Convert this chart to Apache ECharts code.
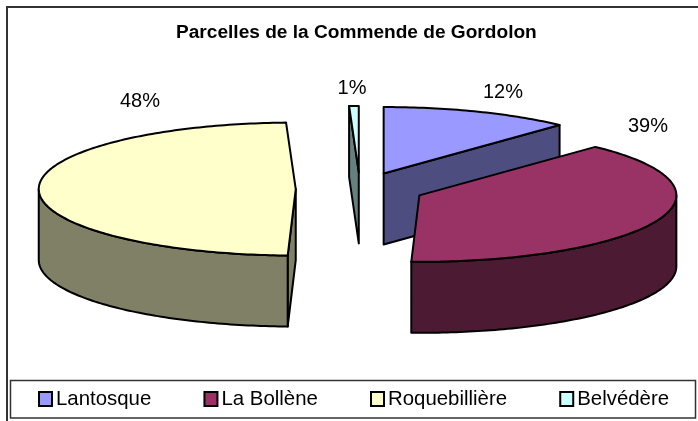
<!DOCTYPE html>
<html><head><meta charset="utf-8">
<style>html,body{margin:0;padding:0;background:#fff}#c{width:698px;height:421px}</style>
<script src="https://cdn.jsdelivr.net/npm/echarts@6/dist/echarts.min.js"></script>
</head><body><div id="c"></div>
<script>
const categories = ['Lantosque', 'La Bollène', 'Roquebillière', 'Belvédère'];
const values = [12, 38.5, 48.9, 0.6];
const percentLabels = ['12%', '39%', '48%', '1%'];
const topColors = ['#9999FF', '#993366', '#FFFFCC', '#CCFFFF'];
const wallColors = ['#4D4D80', '#4D1A33', '#808066', '#668080'];

// pie projection
const CX = 360, CY = 189, RX = 257, RY = 66.5, DEPTH = 71, EXPLODE = 0.25;
const LABEL_AT = [[503, 92], [648, 126], [140, 101], [352, 88]];

const total = values.reduce((a, b) => a + b, 0);
let acc = 0;
const spans = values.map(v => { const s = acc; acc += v / total * 360; return [s, acc]; });
const rad = d => d * Math.PI / 180;

function makeRender(idx) {
  return function (params, api) {
    const a0 = api.value(0), a1 = api.value(1), mid = (a0 + a1) / 2;
    const ax = CX + EXPLODE * RX * Math.sin(rad(mid));
    const ay = CY - EXPLODE * RY * Math.cos(rad(mid));
    const pt = a => [ax + RX * Math.sin(rad(a)), ay - RY * Math.cos(rad(a))];
    const arc = (from, to) => { const p = []; const n = Math.max(2, Math.ceil(to - from)); for (let i = 0; i <= n; i++) p.push(pt(from + (to - from) * i / n)); return p; };
    const down = p => [p[0], p[1] + DEPTH];
    const lw = { stroke: '#000', lineWidth: 2, lineJoin: 'round' };
    const kids = [];
    const poly = (pts, fill) => kids.push({ type: 'polygon', shape: { points: pts }, style: Object.assign({ fill }, lw) });
    const apex = [ax, ay];
    const wall = wallColors[idx];
    // cut faces turned towards the viewer
    if (Math.sin(rad(a0)) < -1e-6) { const s = pt(a0); poly([apex, s, down(s), down(apex)], wall); }
    if (Math.sin(rad(a1)) > 1e-6) { const e = pt(a1); poly([apex, e, down(e), down(apex)], wall); }
    // outer rim, front half only
    const f0 = Math.max(a0, 90), f1 = Math.min(a1, 270);
    if (f1 > f0) { const r = arc(f0, f1); poly(r.concat(r.slice().reverse().map(down)), wall); }
    // top
    poly([apex].concat(arc(a0, a1)), topColors[idx]);
    kids.push({ type: 'text', silent: true, style: { text: percentLabels[idx], x: LABEL_AT[idx][0], y: LABEL_AT[idx][1], align: 'center', verticalAlign: 'middle', fontFamily: 'Liberation Sans', fontSize: 20, fill: '#000' } });
    return { type: 'group', children: kids };
  };
}

const chart = echarts.init(document.getElementById('c'), null, { renderer: 'canvas' });
chart.setOption({
  animation: false,
  backgroundColor: '#fff',
  title: { text: 'Parcelles de la Commende de Gordolon', left: 176, top: 23, itemGap: 0, padding: 0,
    textStyle: { fontFamily: 'Liberation Sans', fontWeight: 'bold', fontSize: 19.1, color: '#000' } },
  legend: { data: categories, left: 38, top: 389, width: 655, orient: 'horizontal', icon: 'rect', itemWidth: 13, itemHeight: 14, itemGap: 52.2,
    padding: 0, selectedMode: false, z: 5,
    itemStyle: { borderColor: '#000', borderWidth: 2 },
    textStyle: { fontFamily: 'Liberation Sans', fontSize: 20.4, color: '#000', padding: [0, 0, 0, -1] } },
  graphic: [
    { type: 'polyline', silent: true, z: -1, shape: { points: [[7, 440], [7, 7], [720, 7]] }, style: { stroke: '#333', lineWidth: 2, fill: null } },
    { type: 'rect', silent: true, z: 0, shape: { x: 10.5, y: 380.5, width: 685, height: 37.5 }, style: { stroke: '#333', lineWidth: 1.5, fill: '#fff' } }
  ],
  series: categories.map((name, i) => ({
    type: 'custom', name, coordinateSystem: 'none', renderItem: makeRender(i),
    itemStyle: { color: topColors[i] }, data: [spans[i]], silent: true
  }))
});
</script></body></html>
